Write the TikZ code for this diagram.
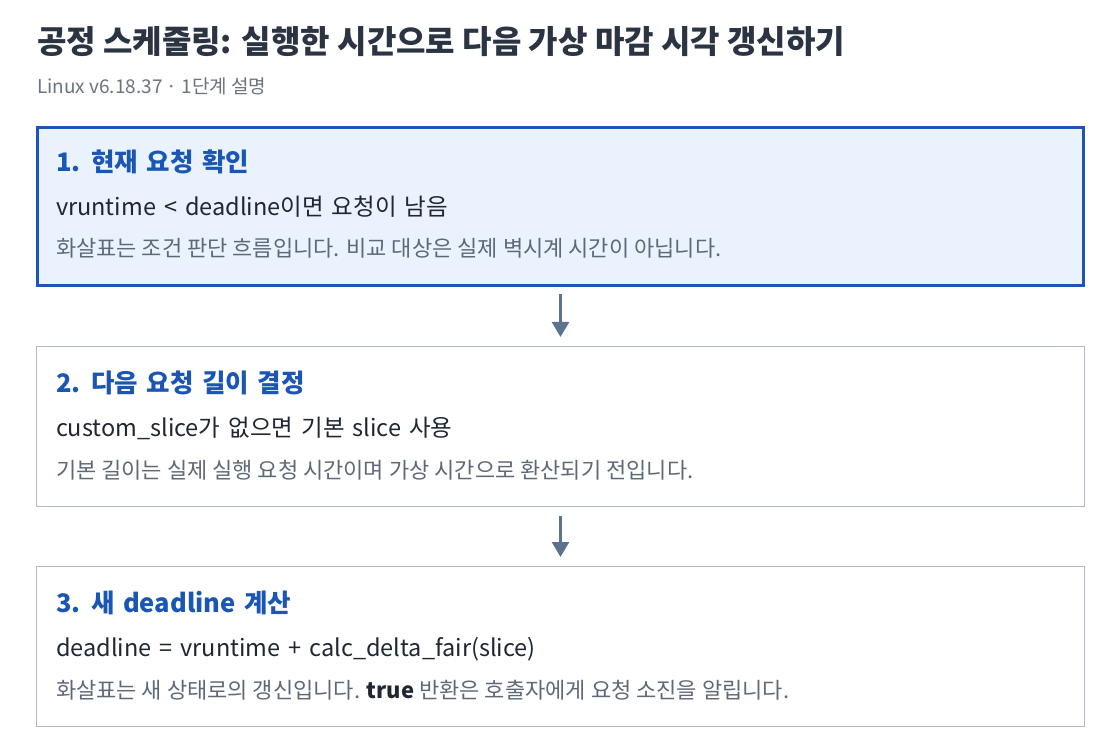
\documentclass[tikz,border=0pt]{standalone}
\usepackage{fontspec}
\setmainfont{Noto Sans CJK KR}
\usetikzlibrary{arrows.meta}
\definecolor{titlec}{HTML}{2B3443}
\definecolor{subc}{HTML}{6B7380}
\definecolor{headc}{HTML}{1A56B4}
\definecolor{bodyc}{HTML}{1F2733}
\definecolor{notec}{HTML}{5E6978}
\definecolor{activeb}{HTML}{1A56B8}
\definecolor{activef}{HTML}{EAF2FD}
\definecolor{plainb}{HTML}{B0B9C6}
\definecolor{arrowc}{HTML}{5A7490}
\newcommand\myheadfont{\fontsize{25.5}{30}\selectfont\bfseries\spaceskip 0.34em\relax}
\newcommand\mybodyfont{\fontsize{23.5}{28}\selectfont\spaceskip 0.34em\relax}
\tikzset{
  txt/.style={anchor=base west, inner sep=0pt, outer sep=0pt},
  titletxt/.style={txt, text=titlec, font=\fontsize{32}{38}\selectfont\bfseries},
  subtxt/.style={txt, text=subc, font=\fontsize{19}{23}\selectfont},
  headtxt/.style={txt, text=headc, font=\myheadfont},
  bodytxt/.style={txt, text=bodyc, font=\mybodyfont},
  notetxt/.style={txt, text=notec, font=\fontsize{22}{26}\selectfont},
  stagebox/.style={rectangle, inner sep=0pt, outer sep=0pt},
  activebox/.style={stagebox, draw=activeb, fill=activef, line width=3pt, minimum width=1046pt, minimum height=158pt},
  plainbox/.style={stagebox, draw=plainb, fill=white, line width=1pt, minimum width=1048pt, minimum height=160pt},
  flow/.style={draw=arrowc, line width=2.7pt, -{Triangle[width=17pt,length=15pt]}, shorten <=9pt, shorten >=9.5pt}
}
\begin{document}
\begin{tikzpicture}[x=1pt,y=-1pt]
\useasboundingbox[fill=white] (0,0) rectangle (1120,754);
\node[titletxt] (title) at (37,54) {공정 스케줄링: 실행한 시간으로 다음 가상 마감 시각 갱신하기};
\node[subtxt] (sub) at (37,94) {Linux v6.18.37 · 1단계 설명};

\node[activebox] (b1) at (560.5,206.5) {};
\node[headtxt] (h1) at (56,172) {1. 현재 요청 확인};
\node[bodytxt] (l1) at (56,216) {vruntime < deadline이면 요청이 남음};
\node[notetxt] (n1) at (56,257) {화살표는 조건 판단 흐름입니다. 비교 대상은 실제 벽시계 시간이 아닙니다.};

\node[plainbox] (b2) at (560.5,426.5) {};
\node[headtxt] (h2) at (56,392) {2. 다음 요청 길이 결정};
\node[bodytxt] (l2) at (56,436) {custom\_slice가 없으면 기본 slice 사용};
\node[notetxt] (n2) at (56,478) {기본 길이는 실제 실행 요청 시간이며 가상 시간으로 환산되기 전입니다.};

\node[plainbox] (b3) at (560.5,646.5) {};
\node[headtxt] (h3) at (56,612) {3. 새 deadline 계산};
\node[bodytxt] (l3) at (56,656) {deadline = vruntime + calc\_delta\_fair(slice)};
\node[notetxt] (n3) at (56,698) {화살표는 새 상태로의 갱신입니다. \textcolor{bodyc}{\bfseries true} 반환은 호출자에게 요청 소진을 알립니다.};

\draw[flow] (b1.south) -- (b2.north);
\draw[flow] (b2.south) -- (b3.north);
\end{tikzpicture}
\end{document}
